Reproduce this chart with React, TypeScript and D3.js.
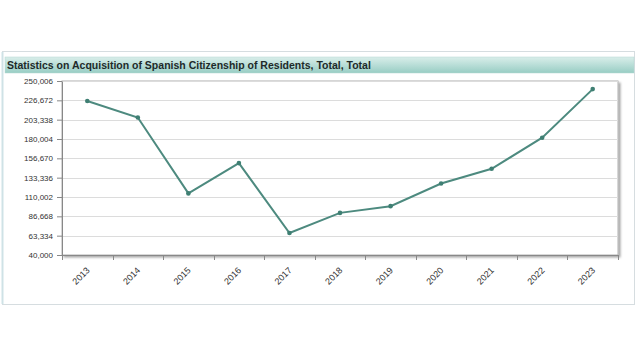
import React, { useEffect, useRef } from 'react';
import * as d3 from 'd3';

const years = ['2013', '2014', '2015', '2016', '2017', '2018', '2019', '2020', '2021', '2022', '2023'];
const citizenships = [225793, 205880, 114351, 150944, 66498, 90841, 98954, 126266, 144012, 181581, 240208];
const yTicks = [40000, 63334, 86668, 110002, 133336, 156670, 180004, 203338, 226672, 250006];
const chartTitle = 'Statistics on Acquisition of Spanish Citizenship of Residents, Total, Total';

function App() {
  const ref = useRef<SVGSVGElement>(null);

  useEffect(() => {
    if (!ref.current) return;
    const width = 636;
    const height = 358;
    const margin = { top: 81, right: 18, bottom: 103, left: 62 };
    const font = 'Liberation Sans, Arial, sans-serif';

    const svg = d3.select(ref.current).attr('width', width).attr('height', height);
    svg.selectAll('*').remove();

    const defs = svg.append('defs');
    const grad = defs.append('linearGradient').attr('id', 'titleGrad')
      .attr('x1', 0).attr('y1', 0).attr('x2', 0).attr('y2', 1);
    grad.append('stop').attr('offset', '0%').attr('stop-color', '#d9eeea');
    grad.append('stop').attr('offset', '100%').attr('stop-color', '#98cdc4');

    const shadow = defs.append('filter').attr('id', 'shadow')
      .attr('x', '-5%').attr('y', '-5%').attr('width', '110%').attr('height', '115%');
    shadow.append('feDropShadow').attr('dx', 2).attr('dy', 2).attr('stdDeviation', 1.2)
      .attr('flood-color', '#000').attr('flood-opacity', 0.35);

    // outer panel
    svg.append('rect').attr('x', 2.5).attr('y', 51.5).attr('width', 632).attr('height', 253)
      .attr('fill', '#fff').attr('stroke', '#d6dde0');
    svg.append('line').attr('x1', 2.5).attr('x2', 2.5).attr('y1', 52).attr('y2', 304)
      .attr('stroke', '#cfe2e6').attr('stroke-width', 2);

    // title bar
    svg.append('rect').attr('x', 5).attr('y', 57).attr('width', 629).attr('height', 16)
      .attr('fill', 'url(#titleGrad)').attr('stroke', '#b5d8d2').attr('stroke-width', 0.5);
    svg.append('text').attr('x', 7).attr('y', 69)
      .attr('font-family', font)
      .attr('font-size', 10.5).attr('font-weight', 'bold').attr('fill', '#1e2a2a')
      .text(chartTitle);

    const x = d3.scaleBand().domain(years).range([margin.left, width - margin.right]);
    const y = d3.scaleLinear().domain([40000, 250006]).range([height - margin.bottom, margin.top]);

    // plot frame with shadow
    svg.append('rect')
      .attr('x', margin.left).attr('y', margin.top)
      .attr('width', width - margin.right - margin.left)
      .attr('height', height - margin.bottom - margin.top)
      .attr('fill', '#fff').attr('stroke', '#b0b0b0').attr('filter', 'url(#shadow)');

    // grid
    svg.append('g').selectAll('line').data(yTicks.slice(1)).join('line')
      .attr('x1', margin.left).attr('x2', width - margin.right)
      .attr('y1', d => Math.round(y(d)) + 0.5).attr('y2', d => Math.round(y(d)) + 0.5)
      .attr('stroke', '#dcdcdc');

    // y axis
    const yAxis = svg.append('g')
      .attr('transform', `translate(${margin.left},0)`)
      .call(d3.axisLeft(y).tickValues(yTicks).tickFormat(d3.format(',')).tickSize(5).tickPadding(4).tickSizeOuter(0));
    yAxis.select('.domain').attr('stroke', '#888');
    yAxis.selectAll('line').attr('stroke', '#888');
    yAxis.selectAll('text').attr('font-family', font).attr('font-size', 8).attr('fill', '#333');

    // x axis
    const xAxis = svg.append('g')
      .attr('transform', `translate(0,${height - margin.bottom})`)
      .call(d3.axisBottom(x).tickSize(0).tickSizeOuter(0));
    xAxis.select('.domain').attr('stroke', '#888');
    xAxis.selectAll('.tick line').remove();
    xAxis.selectAll('.tick text')
      .attr('font-family', font).attr('font-size', 9).attr('fill', '#333')
      .attr('text-anchor', 'end')
      .attr('x', 0).attr('y', 0).attr('dy', 0)
      .attr('transform', 'translate(3,16) rotate(-45)');
    // boundary ticks between bands
    const edges = years.map(d => x(d) as number).concat([width - margin.right]);
    xAxis.append('g').selectAll('line').data(edges).join('line')
      .attr('x1', d => Math.round(d) + 0.5).attr('x2', d => Math.round(d) + 0.5)
      .attr('y1', 0).attr('y2', 5).attr('stroke', '#888');

    // line
    const pts = years.map((yr, i) => ({ yr, v: citizenships[i] }));
    const cx = (d: { yr: string }) => (x(d.yr) as number) + x.bandwidth() / 2;
    const line = d3.line<{ yr: string; v: number }>().x(cx).y(d => y(d.v));
    svg.append('path').datum(pts).attr('d', line)
      .attr('fill', 'none').attr('stroke', '#4d8a7f').attr('stroke-width', 2);
    svg.append('g').selectAll('circle').data(pts).join('circle')
      .attr('cx', cx).attr('cy', d => y(d.v)).attr('r', 2.3).attr('fill', '#3f7f73');
  }, []);

  return (
    <svg ref={ref} style={{ position: 'absolute', left: 0, top: 0, display: 'block' }}></svg>
  );
}

export default App;
